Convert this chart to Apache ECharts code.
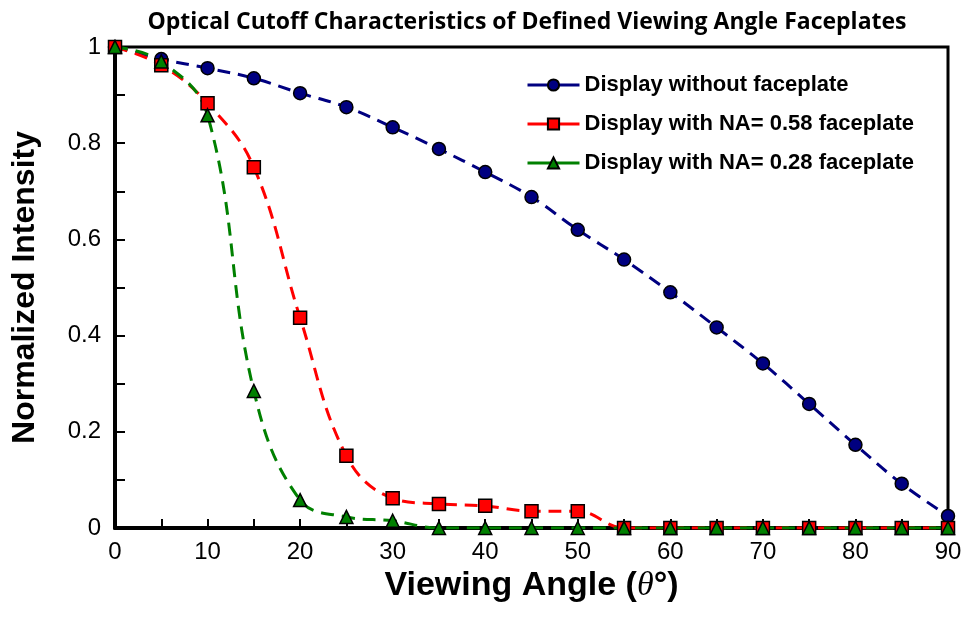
<!DOCTYPE html>
<html>
<head>
<meta charset="utf-8">
<script src="https://cdn.jsdelivr.net/npm/echarts@6/dist/echarts.min.js"></script>
<style>
  html, body { margin: 0; padding: 0; background: #fff; }
  #chart { width: 965px; height: 631px; }
</style>
</head>
<body>
<div id="chart"></div>
<script>
// 数据
var angles = [0, 5, 10, 15, 20, 25, 30, 35, 40, 45, 50, 55, 60, 65, 70, 75, 80, 85, 90];
var noFaceplate = [1, 0.975, 0.956, 0.935, 0.904, 0.875, 0.833, 0.788, 0.74, 0.688, 0.62, 0.558, 0.49, 0.417, 0.342, 0.258, 0.173, 0.092, 0.025];
var na058 = [1, 0.962, 0.883, 0.75, 0.437, 0.15, 0.062, 0.05, 0.046, 0.035, 0.035, 0, 0, 0, 0, 0, 0, 0, 0];
var na028 = [1, 0.97, 0.858, 0.285, 0.058, 0.023, 0.015, 0, 0, 0, 0, 0, 0, 0, 0, 0, 0, 0, 0];
var seriesNames = ['Display without faceplate', 'Display with NA= 0.58 faceplate', 'Display with NA= 0.28 faceplate'];

function pairs(ys) {
    var out = [];
    for (var i = 0; i < angles.length; i++) {
        out.push([angles[i], ys[i]]);
    }
    return out;
}

var myChart = echarts.init(document.getElementById('chart'));

function mkSeries(name, ys, color, symbol, size) {
    return {
        name: name,
        type: 'line',
        data: pairs(ys),
        smooth: 0.4,
        symbol: symbol,
        symbolSize: size,
        lineStyle: { color: color, width: 3, type: [13, 8] },
        itemStyle: { color: color, borderColor: '#000', borderWidth: 1.5 }
    };
}

var option = {
    backgroundColor: '#fff',
    animation: false,
    title: {
        text: 'Optical Cutoff Characteristics of Defined Viewing Angle Faceplates',
        left: 522,
        textAlign: 'center',
        top: 6,
        textStyle: { fontFamily: 'Open Sans', fontWeight: 'bold', fontSize: 23, color: '#000' }
    },
    legend: {
        orient: 'vertical',
        left: 521,
        top: 69,
        itemWidth: 52,
        itemHeight: 14,
        itemGap: 17,
        lineStyle: { type: 'solid', width: 3 },
        textStyle: { fontFamily: 'Liberation Sans', fontWeight: 'bold', fontSize: 22, color: '#000' },
        data: seriesNames
    },
    grid: {
        left: 115,
        right: 17,
        top: 47,
        bottom: 103,
        show: true,
        borderColor: '#000',
        borderWidth: 3
    },
    xAxis: {
        type: 'value',
        min: 0,
        max: 90,
        interval: 10,
        name: '{n|Viewing Angle (}{t|θ}{n|°)}',
        nameLocation: 'middle',
        nameGap: 37,
        nameTextStyle: {
            rich: {
                n: { fontFamily: 'Liberation Sans', fontWeight: 'bold', fontSize: 34, color: '#000' },
                t: { fontFamily: 'Liberation Serif', fontStyle: 'italic', fontSize: 34, color: '#000' }
            }
        },
        axisLine: { lineStyle: { color: '#000', width: 4 } },
        axisTick: { inside: true, length: 9, lineStyle: { color: '#000', width: 2 } },
        minorTick: { show: true, splitNumber: 2, length: 9, lineStyle: { color: '#000', width: 2 } },
        splitLine: { show: false },
        axisLabel: { fontFamily: 'Liberation Sans', fontSize: 24, color: '#000', margin: 12 }
    },
    yAxis: {
        type: 'value',
        min: 0,
        max: 1,
        interval: 0.2,
        name: 'Normalized Intensity',
        nameLocation: 'middle',
        nameGap: 74,
        nameTextStyle: { fontFamily: 'Liberation Sans', fontWeight: 'bold', fontSize: 32, color: '#000' },
        axisLine: { lineStyle: { color: '#000', width: 4 } },
        axisTick: { inside: true, length: 10, lineStyle: { color: '#000', width: 2 } },
        minorTick: { show: true, splitNumber: 2, length: 10, lineStyle: { color: '#000', width: 2 } },
        splitLine: { show: false },
        axisLabel: { fontFamily: 'Liberation Sans', fontSize: 24, color: '#000', margin: 14 }
    },
    series: [
        mkSeries(seriesNames[0], noFaceplate, '#000080', 'circle', 13),
        mkSeries(seriesNames[1], na058, '#ff0000', 'rect', 13),
        mkSeries(seriesNames[2], na028, '#008000', 'triangle', 13)
    ]
};

myChart.setOption(option);
</script>
</body>
</html>
